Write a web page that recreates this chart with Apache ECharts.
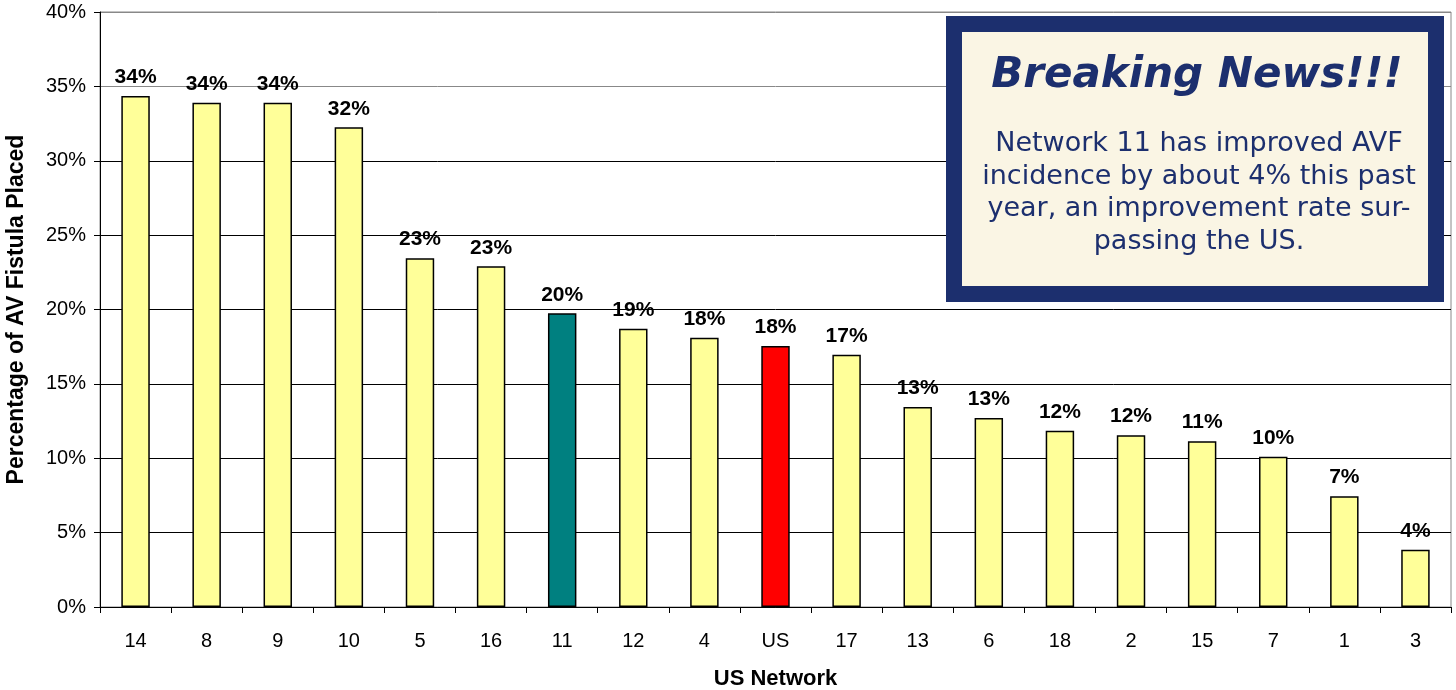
<!DOCTYPE html>
<html>
<head>
<meta charset="utf-8">
<script src="https://cdn.jsdelivr.net/npm/echarts@6/dist/echarts.min.js"></script>
<style>
html,body{margin:0;padding:0;background:#fff;}
#chart{width:1456px;height:690px;}
</style>
</head>
<body>
<div id="chart"></div>
<script>
var categories = ['14','8','9','10','5','16','11','12','4','US','17','13','6','18','2','15','7','1','3'];
var values = [34.35, 33.9, 33.9, 32.25, 23.45, 22.9, 19.75, 18.7, 18.1, 17.55, 16.95, 13.45, 12.7, 11.85, 11.55, 11.15, 10.1, 7.45, 3.85];
var yTicks = [0, 5, 10, 15, 20, 25, 30, 35, 40];
var newsTitle = 'Breaking News!!!';
var newsLines = ['Network 11 has improved AVF', 'incidence by about 4% this past', 'year, an improvement rate sur-', 'passing the US.'];

var chart = echarts.init(document.getElementById('chart'));
var navy = '#1c2f6e';
var graphics = [
  {type:'rect', shape:{x:946,y:16,width:498,height:286}, style:{fill:navy}, z:100},
  {type:'rect', shape:{x:962,y:32,width:466,height:254}, style:{fill:'#faf5e4'}, z:101},
  {type:'text', x:1197, y:76, style:{text:newsTitle, fill:navy, font:'italic bold 42px "DejaVu Sans"', textAlign:'center', textVerticalAlign:'middle'}, z:102}
];
newsLines.forEach(function(t,i){
  graphics.push({type:'text', x:1199, y:144 + i*32.5, style:{text:t, fill:navy, font:'27px "DejaVu Sans"', textAlign:'center', textVerticalAlign:'middle'}, z:102});
});

chart.setOption({
  animation:false,
  grid:{left:100, right:5, top:12, bottom:83, outerBoundsMode:'none', containLabel:false, show:true, borderColor:'#888', borderWidth:1},
  xAxis:{
    type:'category', data:categories,
    name:'US Network', nameLocation:'middle', nameGap:61,
    nameTextStyle:{fontFamily:'Liberation Sans', fontWeight:'bold', fontSize:22, color:'#000'},
    axisLine:{lineStyle:{color:'#000', width:1}},
    axisTick:{show:true, alignWithLabel:false, length:6, lineStyle:{color:'#000'}},
    axisLabel:{fontFamily:'Liberation Sans', fontSize:20, color:'#000', margin:24, interval:0}
  },
  yAxis:{
    type:'value', min:0, max:40, interval:5,
    name:'Percentage of AV Fistula Placed', nameLocation:'middle', nameGap:72,
    nameTextStyle:{fontFamily:'Liberation Sans', fontWeight:'bold', fontSize:23, color:'#000'},
    axisLine:{show:true, lineStyle:{color:'#000', width:1}},
    axisTick:{show:true, length:6, lineStyle:{color:'#000'}},
    axisLabel:{fontFamily:'Liberation Sans', fontSize:20, color:'#000', margin:14,
      formatter:function(v){return v+'%';}},
    splitLine:{show:true, lineStyle:{color:['#000','#000','#000','#000','#000','#000','#000','#888','#888'], width:1}}
  },
  series:[{
    type:'bar', data:values, barWidth:'40%',
    itemStyle:{
      borderColor:'#000', borderWidth:1.5,
      color:function(p){
        if(categories[p.dataIndex]==='11') return '#008080';
        if(categories[p.dataIndex]==='US') return '#ff0000';
        return '#ffff99';
      }
    },
    label:{show:true, position:'top', distance:8, fontFamily:'Liberation Sans', fontWeight:'bold', fontSize:21, color:'#000',
      formatter:function(p){return Math.round(p.value)+'%';}}
  }],
  graphic:graphics
});
</script>
</body>
</html>
